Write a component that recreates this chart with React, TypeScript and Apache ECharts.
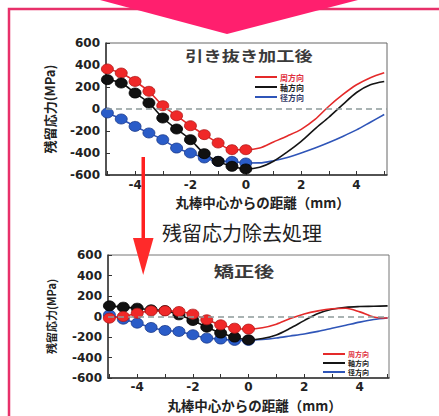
import React, { useEffect, useRef } from "react";
import * as echarts from "echarts";

// Shared x positions (mm)
const xMarks = [-5, -4.5, -4, -3.5, -3, -2.5, -2, -1.5, -1, -0.5, 0];
const xCurve = [0.5, 1, 1.5, 2, 2.5, 3, 3.5, 4, 4.5, 5];
const xLabels = [-4, -2, 0, 2, 4];
const xTicks = [-5, -4, -3, -2, -1, 0, 1, 2, 3, 4, 5];

const seriesNames = ["周方向", "軸方向", "径方向"];

// 引き抜き加工後 (after drawing)
const topRedMarks = [364, 327, 251, 161, 30, -61, -152, -233, -309, -370, -370];
const topRedCurve = [-355, -300, -245, -185, -95, 25, 130, 220, 285, 330];
const topBlackMarks = [267, 236, 145, 55, -82, -182, -279, -406, -476, -521, -545];
const topBlackCurve = [-530, -475, -390, -294, -180, -75, 40, 150, 220, 250];
const topBlueMarks = [-36, -91, -158, -218, -279, -355, -400, -445, -476, -476, -491];
const topBlueCurve = [-490, -470, -440, -400, -355, -305, -250, -190, -120, -50];

// 矯正後 (after straightening)
const botRedMarks = [-16, 0, 32, 55, 55, 49, 23, -32, -81, -114, -123];
const botRedCurve = [-110, -75, -20, 25, 55, 75, 80, 45, -5, -15];
const botBlackMarks = [104, 91, 81, 65, 58, 16, -39, -104, -162, -201, -227];
const botBlackCurve = [-215, -180, -115, -40, 30, 70, 90, 97, 100, 104];
const botBlueMarks = [16, -26, -65, -107, -136, -146, -178, -211, -220, -233, -233];
const botBlueCurve = [-225, -210, -190, -170, -145, -115, -85, -55, -30, -15];

const yTicksMin = -600;
const yTicksMax = 600;
const yInterval = 200;

const RED = "#e42a2a";
const BLACK = "#151515";
const BLUE = "#2f55b8";
const MARK_RED = "#f02828";
const MARK_BLACK = "#111111";
const MARK_BLUE = "#2a5cc8";

const pairs = (xs: number[], ys: number[]) => xs.map((x, i) => [x, ys[i]]);

export default function App() {
  const ref = useRef<HTMLDivElement>(null);
  useEffect(() => {
    if (!ref.current) return;
    const chart = echarts.init(ref.current, undefined, { renderer: "svg" });

    const axisLabelStyle = {
      fontFamily: "DejaVu Sans",
      fontWeight: "bold" as const,
      fontSize: 12,
      color: "#222",
    };

    const makeX = (
      gridIndex: number,
      min: number,
      max: number,
      namePad: number,
      gap: number,
      nameSize: number,
      labelMargin: number
    ) => ({
      type: "value",
      gridIndex,
      min,
      max,
      name: "丸棒中心からの距離（mm）",
      nameLocation: "middle",
      nameGap: gap,
      nameTextStyle: {
        fontFamily: "Noto Sans CJK JP",
        fontWeight: "bold",
        fontSize: nameSize,
        color: "#222",
        padding: [0, 0, 0, namePad],
      },
      axisLine: { show: true, onZero: false, lineStyle: { color: "#333", width: 1.5 } },
      axisTick: { show: true, inside: true, length: 4, customValues: xTicks, lineStyle: { color: "#333" } },
      axisLabel: { ...axisLabelStyle, margin: labelMargin, customValues: xLabels },
      splitLine: { show: false },
    });

    const makeY = (gridIndex: number, nameSize: number, nameGap: number) => ({
      type: "value",
      gridIndex,
      min: yTicksMin,
      max: yTicksMax,
      interval: yInterval,
      name: "残留応力(MPa)",
      nameLocation: "middle",
      nameGap,
      nameTextStyle: {
        fontFamily: "Noto Sans CJK JP",
        fontWeight: "bold",
        fontSize: nameSize,
        color: "#222",
      },
      axisLine: { show: true, onZero: false, lineStyle: { color: "#333", width: 1.5 } },
      axisTick: { show: true, inside: true, length: 4, lineStyle: { color: "#333" } },
      axisLabel: { ...axisLabelStyle, margin: 6 },
      splitLine: { show: false },
    });

    const lineSeries = (
      name: string,
      idx: number,
      marks: number[],
      curve: number[],
      color: string,
      withZero: boolean
    ) => ({
      type: "line",
      name,
      xAxisIndex: idx,
      yAxisIndex: idx,
      data: pairs(xMarks.concat(xCurve), marks.concat(curve)),
      smooth: 0.3,
      showSymbol: false,
      symbol: "none",
      lineStyle: { color, width: 1.6 },
      itemStyle: { color },
      z: 2,
      markLine: withZero
        ? {
            silent: true,
            symbol: "none",
            label: { show: false },
            lineStyle: { type: [6, 4], color: "#8d9b9b", width: 1.5 },
            data: [{ yAxis: 0 }],
          }
        : undefined,
    });

    const scatterSeries = (name: string, idx: number, marks: number[], color: string, border: string) => ({
      type: "scatter",
      name,
      xAxisIndex: idx,
      yAxisIndex: idx,
      data: pairs(xMarks, marks),
      symbol: "circle",
      symbolSize: [12, 10],
      clip: false,
      itemStyle: { color, borderColor: border, borderWidth: 0.8, opacity: 1 },
      z: 3,
    });

    const legendData = (redText: string, otherText: string, blueText: string) => [
      { name: seriesNames[0], itemStyle: { color: RED }, textStyle: { color: redText } },
      { name: seriesNames[1], itemStyle: { color: BLACK }, textStyle: { color: otherText } },
      { name: seriesNames[2], itemStyle: { color: BLUE }, textStyle: { color: blueText } },
    ];

    chart.setOption({
      animation: false,
      backgroundColor: "#ffffff",
      grid: [
        { left: 106, top: 43, width: 281, height: 132, show: true, borderColor: "#666", borderWidth: 1 },
        { left: 108, top: 255, width: 281, height: 123, show: true, borderColor: "#777", borderWidth: 1 },
      ],
      xAxis: [makeX(0, -5.05, 5.1, 32, 20, 13.5, 4), makeX(1, -5.05, 5.05, 12, 20, 13.5, 3)],
      yAxis: [makeY(0, 13, 50), makeY(1, 11, 52)],
      legend: [
        {
          orient: "vertical",
          left: 250,
          top: 67,
          icon: "rect",
          itemWidth: 22,
          itemHeight: 2,
          itemGap: 0,
          selectedMode: false,
          textStyle: { fontSize: 8, lineHeight: 10, fontFamily: "Noto Sans CJK JP", fontWeight: "bold", padding: [0, 0, 0, -2] },
          data: legendData("#e03040", "#222", "#343a66"),
        },
        {
          orient: "vertical",
          left: 318,
          top: 345,
          icon: "rect",
          itemWidth: 22,
          itemHeight: 2,
          itemGap: 1,
          selectedMode: false,
          textStyle: { fontSize: 7, lineHeight: 8, fontFamily: "Noto Sans CJK JP", fontWeight: "bold", padding: [0, 0, 0, -2] },
          data: legendData("#e03040", "#222", "#222"),
        },
      ],
      series: [
        lineSeries(seriesNames[2], 0, topBlueMarks, topBlueCurve, BLUE, true),
        lineSeries(seriesNames[1], 0, topBlackMarks, topBlackCurve, BLACK, false),
        lineSeries(seriesNames[0], 0, topRedMarks, topRedCurve, RED, false),
        scatterSeries(seriesNames[2], 0, topBlueMarks, MARK_BLUE, "#1a3a8a"),
        scatterSeries(seriesNames[0], 0, topRedMarks, MARK_RED, "#b01818"),
        scatterSeries(seriesNames[1], 0, topBlackMarks, MARK_BLACK, "#000"),

        lineSeries(seriesNames[2], 1, botBlueMarks, botBlueCurve, BLUE, true),
        lineSeries(seriesNames[1], 1, botBlackMarks, botBlackCurve, BLACK, false),
        lineSeries(seriesNames[0], 1, botRedMarks, botRedCurve, RED, false),
        scatterSeries(seriesNames[2], 1, botBlueMarks, MARK_BLUE, "#1a3a8a"),
        scatterSeries(seriesNames[1], 1, botBlackMarks, MARK_BLACK, "#000"),
        scatterSeries(seriesNames[0], 1, botRedMarks, MARK_RED, "#b01818"),
      ],
      graphic: [
        {
          type: "polyline",
          z: 50,
          shape: { points: [[9, 416], [9, 9], [439, 9]] },
          style: { stroke: "#e8306a", lineWidth: 2.5, fill: "none" },
        },
        {
          type: "polygon",
          z: 60,
          shape: { points: [[100, 0], [358, 0], [227, 34]] },
          style: { fill: "#ff1f6e" },
        },
        {
          type: "text",
          z: 60,
          x: 249,
          y: 55,
          scaleX: 1.3,
          style: {
            text: "引き抜き加工後",
            fontSize: 14,
            fontWeight: "bold",
            fontFamily: "Noto Sans CJK JP",
            fill: "#3a3a3a",
            textAlign: "center",
            textVerticalAlign: "middle",
            align: "center",
            verticalAlign: "middle",
          },
        },
        {
          type: "text",
          z: 60,
          x: 244,
          y: 270,
          scaleX: 1.35,
          style: {
            text: "矯正後",
            fontSize: 15,
            fontWeight: "bold",
            fontFamily: "Noto Sans CJK JP",
            fill: "#3a3a3a",
            textAlign: "center",
            textVerticalAlign: "middle",
            align: "center",
            verticalAlign: "middle",
          },
        },
        {
          type: "text",
          z: 60,
          x: 162,
          y: 232,
          style: {
            text: "残留応力除去処理",
            fontSize: 20,
            fontFamily: "Noto Sans CJK JP",
            fill: "#222",
            textAlign: "left",
            textVerticalAlign: "middle",
            align: "left",
            verticalAlign: "middle",
          },
        },
        {
          type: "rect",
          z: 70,
          shape: { x: 141.5, y: 157, width: 3.5, height: 83 },
          style: { fill: "#ff2020" },
        },
        {
          type: "polygon",
          z: 70,
          shape: { points: [[133, 238], [153.5, 238], [143.2, 275]] },
          style: { fill: "#ff2a2a" },
        },
      ],
    });

    return () => chart.dispose();
  }, []);

  return (
    <div
      ref={ref}
      style={{ position: "fixed", left: 0, top: 0, width: 439, height: 416, background: "#fff" }}
    />
  );
}
